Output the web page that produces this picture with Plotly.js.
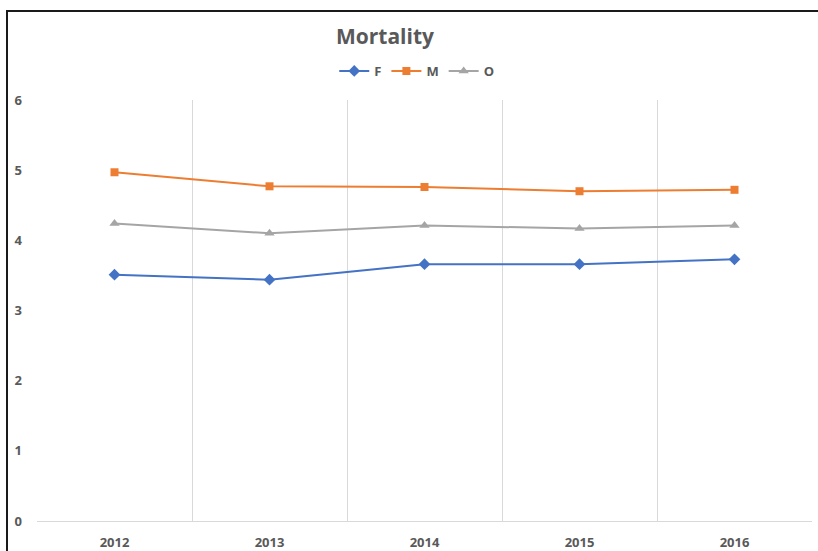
<!DOCTYPE html>
<html>
<head>
<meta charset="utf-8">
<script src="https://cdn.plot.ly/plotly-3.0.1.min.js"></script>
<style>
html,body{margin:0;padding:0;background:#fff;overflow:hidden;}
#chart{width:818px;height:551px;}
#frame{position:absolute;left:6px;top:10px;width:830px;height:560px;border-left:2px solid #1a1a1a;border-top:2px solid #1a1a1a;pointer-events:none;}
</style>
</head>
<body>
<div id="chart"></div>
<div id="frame"></div>
<script>
const years = ['2012', '2013', '2014', '2015', '2016'];
const seriesF = [3.51, 3.44, 3.66, 3.66, 3.73];
const seriesM = [4.97, 4.77, 4.76, 4.70, 4.72];
const seriesO = [4.24, 4.10, 4.21, 4.17, 4.21];

const txtColor = '#595959';
const font = {family: 'Open Sans, Liberation Sans, sans-serif', size: 13, color: txtColor, weight: 700};

const traces = [
  {name: 'F', x: years, y: seriesF, type: 'scatter', mode: 'lines+markers',
   line: {color: '#4472C4', width: 2}, marker: {symbol: 'diamond', size: 9, color: '#4472C4'}},
  {name: 'M', x: years, y: seriesM, type: 'scatter', mode: 'lines+markers',
   line: {color: '#ED7D31', width: 2}, marker: {symbol: 'square', size: 8, color: '#ED7D31'}},
  {name: 'O', x: years, y: seriesO, type: 'scatter', mode: 'lines+markers',
   line: {color: '#A5A5A5', width: 2}, marker: {symbol: 'triangle-up', size: 9, color: '#A5A5A5'}}
];

const layout = {
  width: 818, height: 551,
  paper_bgcolor: '#ffffff', plot_bgcolor: '#ffffff',
  margin: {l: 37, r: 6, t: 100, b: 30},
  font: font,
  title: {text: 'Mortality', x: 0.449, xref: 'paper', xanchor: 'center', y: 1 - 37/551, yref: 'container', yanchor: 'middle',
          font: {family: 'Open Sans, Liberation Sans, sans-serif', size: 21, color: txtColor, weight: 700}},
  showlegend: true,
  legend: {orientation: 'h', x: 0.49, xanchor: 'center', y: 1.069, yanchor: 'middle',
           font: font, itemwidth: 30, tracegroupgap: 0, bgcolor: 'rgba(0,0,0,0)'},
  xaxis: {type: 'category', tickson: 'boundaries', showgrid: true, gridcolor: '#d9d9d9', gridwidth: 1,
          showline: true, linecolor: '#d9d9d9', linewidth: 1, ticks: '', zeroline: false,
          tickfont: font, ticklabelstandoff: 9, fixedrange: true, range: [-0.5, 4.5]},
  yaxis: {range: [0, 6], dtick: 1, showgrid: false, zeroline: false, showline: false, ticks: '',
          tickfont: font, ticklabelstandoff: 14, fixedrange: true}
};

Plotly.newPlot('chart', traces, layout, {displayModeBar: false, staticPlot: true});
</script>
</body>
</html>
